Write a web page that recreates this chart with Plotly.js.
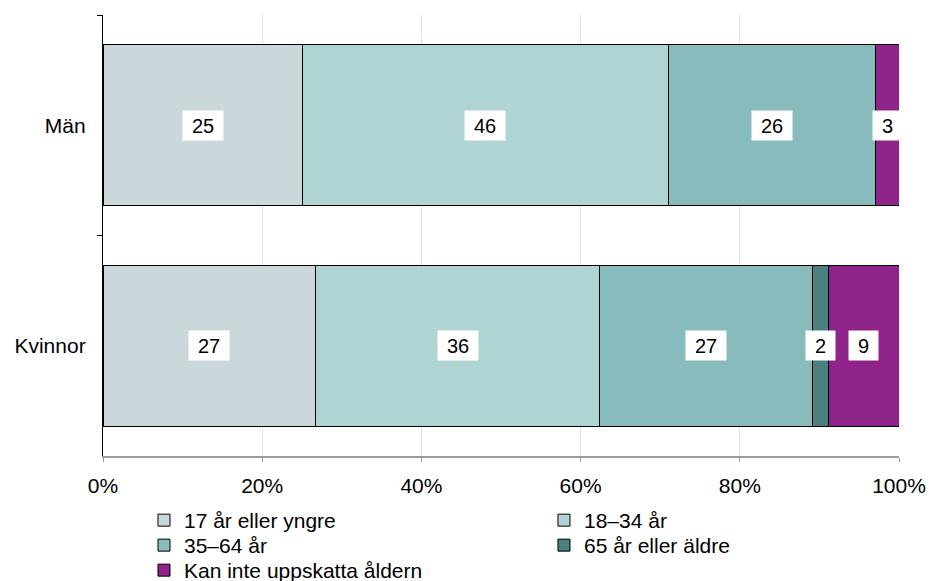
<!DOCTYPE html>
<html>
<head>
<meta charset="utf-8">
<script src="https://cdn.plot.ly/plotly-3.0.1.min.js"></script>
<style>html,body{margin:0;padding:0;background:#fff;}#chart{width:929px;height:581px;}</style>
</head>
<body>
<div id="chart"></div>
<script>
const categories = ['Män', 'Kvinnor'];
const seriesNames = ['17 år eller yngre', '18–34 år', '35–64 år', '65 år eller äldre', 'Kan inte uppskatta åldern'];
const age17 = [25, 27];
const age18_34 = [46, 36];
const age35_64 = [26, 27];
const age65 = [0, 2];
const unknown = [3, 9];
const xTickVals = [0, 20, 40, 60, 80, 100];

const seriesValues = [age17, age18_34, age35_64, age65, unknown];
const colors = ['#CAD8DC', '#B0D4D4', '#88BBBB', '#4A8080', '#8E2489'];
const font = 'Arial, "Liberation Sans", sans-serif';

// one small legend per entry, laid out as a 2-column grid (row-major)
const legendIds = seriesNames.map((_, i) => i === 0 ? 'legend' : 'legend' + (i + 1));
const colX = [0.0515, 0.554];
const rowTopPx = [500, 525, 550];
const plotTop = 15, plotBottom = 456;

const traces = seriesValues.map((vals, i) => ({
  type: 'bar',
  orientation: 'h',
  name: seriesNames[i],
  y: categories,
  x: vals,
  legend: legendIds[i],
  marker: {color: colors[i], line: {color: '#000', width: 1}},
  hoverinfo: 'name+x'
}));

// label annotations at segment centres (normalised to 100%)
const annotations = [];
categories.forEach((cat, ci) => {
  const total = seriesValues.reduce((s, v) => s + v[ci], 0);
  let cum = 0;
  seriesValues.forEach(vals => {
    const v = vals[ci];
    const start = cum / total * 100;
    cum += v;
    const end = cum / total * 100;
    if (v > 0) {
      const txt = String(v);
      annotations.push({
        x: (start + end) / 2, y: cat, xref: 'x', yref: 'y',
        text: txt, showarrow: false,
        font: {family: font, size: 20, color: '#000'},
        bgcolor: '#fff', borderpad: 3.5,
        width: 11 * txt.length + 11
      });
    }
  });
});

const layout = {
  width: 929, height: 581,
  margin: {l: 103, r: 30, t: plotTop, b: 581 - plotBottom, autoexpand: false},
  paper_bgcolor: '#fff', plot_bgcolor: '#fff',
  barmode: 'stack', barnorm: 'percent', bargap: 0.27,
  font: {family: font, size: 21, color: '#000'},
  showlegend: true,
  xaxis: {
    range: [0, 100], tickvals: xTickVals, ticktext: xTickVals.map(v => v + '%'),
    showgrid: true, gridcolor: '#E3E3E3', gridwidth: 1,
    showline: true, linecolor: '#9A9A9A', linewidth: 1.5,
    ticks: 'outside', ticklen: 4, tickcolor: '#9A9A9A', ticklabelstandoff: 6,
    zeroline: false, fixedrange: true,
    tickfont: {family: font, size: 21, color: '#000'}
  },
  yaxis: {
    categoryorder: 'array', categoryarray: categories, autorange: 'reversed',
    showline: true, linecolor: '#000', linewidth: 1.5,
    ticks: 'outside', ticklen: 5, tickcolor: '#000', tickson: 'boundaries',
    showgrid: false, zeroline: false, ticksuffix: '  ',
    tickfont: {family: font, size: 21, color: '#000'}
  },
  annotations: annotations
};

legendIds.forEach((id, i) => {
  const row = Math.floor(i / 2), col = i % 2;
  layout[id] = {
    orientation: 'v', xanchor: 'left', yanchor: 'top',
    x: colX[col], y: (plotBottom - rowTopPx[row]) / (plotBottom - plotTop),
    font: {family: font, size: 21, color: '#000'},
    itemwidth: 30, bgcolor: 'rgba(0,0,0,0)', borderwidth: 0
  };
});

Plotly.newPlot('chart', traces, layout, {displayModeBar: false, staticPlot: true});
</script>
</body>
</html>
